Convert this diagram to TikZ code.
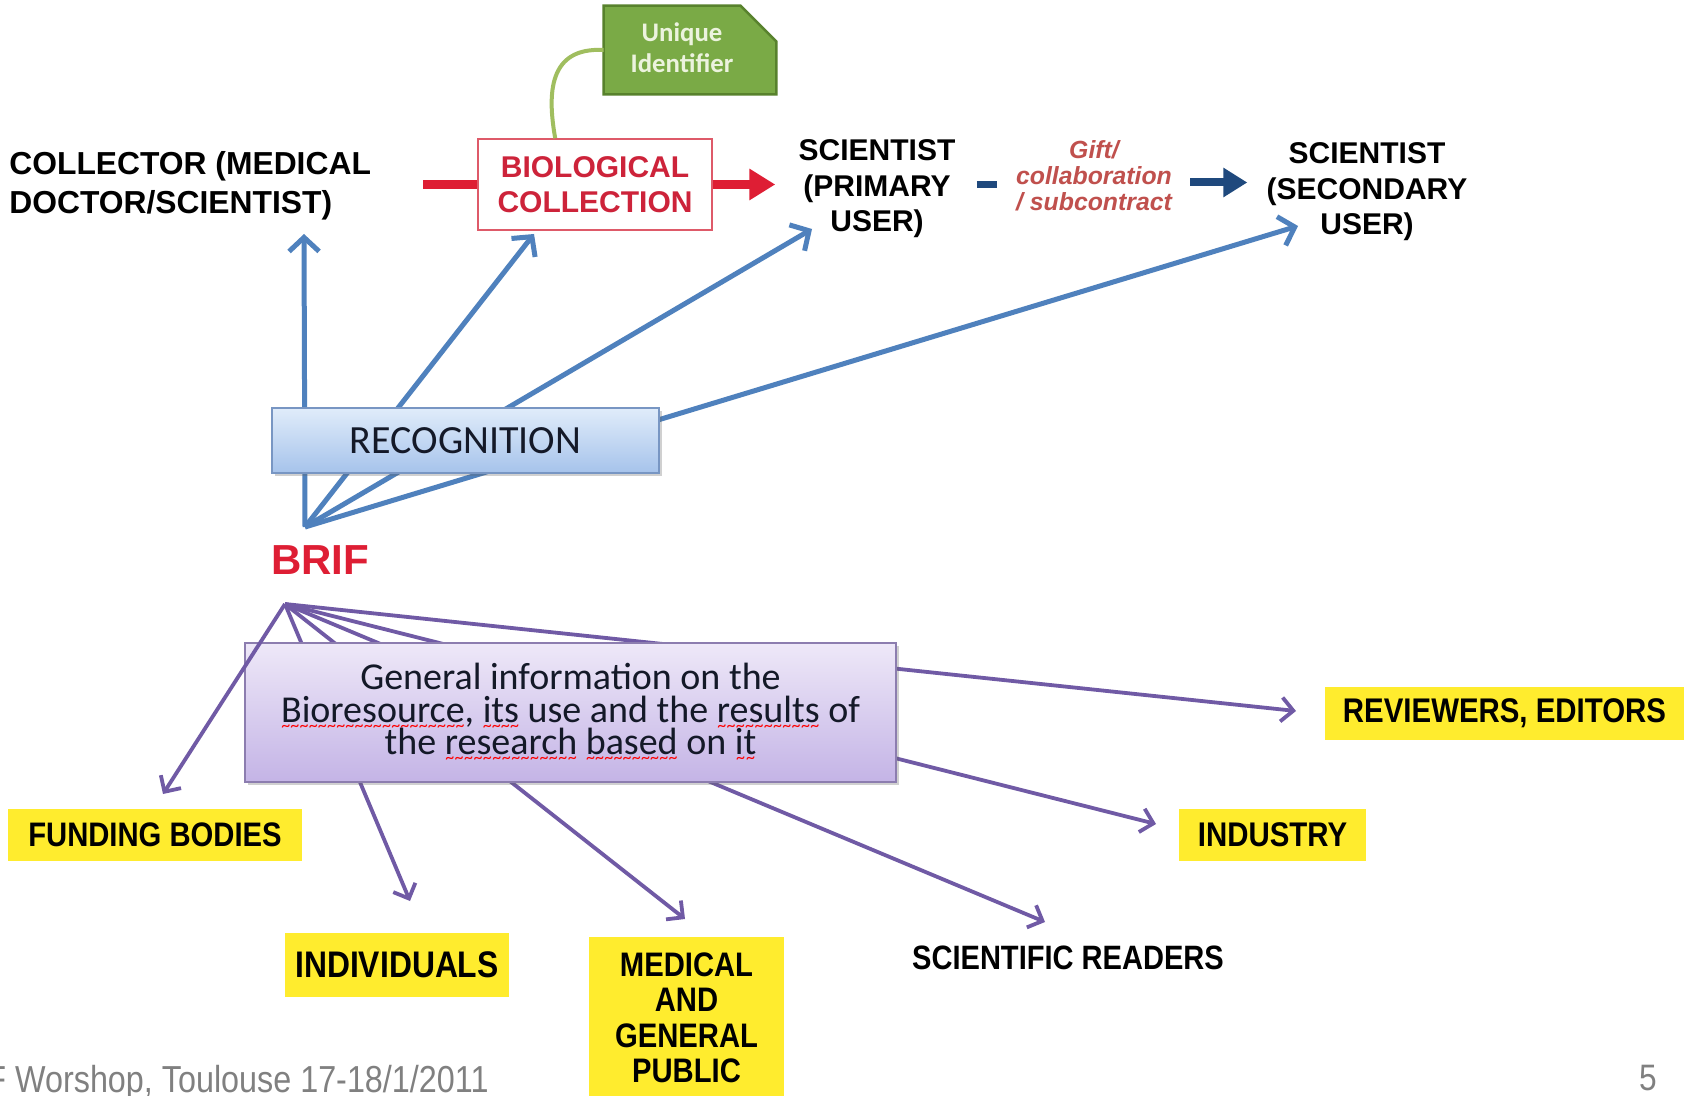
\documentclass[tikz,border=0pt]{standalone}
\usepackage{fontspec}
\setmainfont{Liberation Sans}
\newfontfamily\calfont{Carlito}
\newfontfamily\narfont[FakeStretch=0.86]{Liberation Sans}
\usetikzlibrary{arrows.meta,calc,shadows}
\definecolor{redc}{RGB}{222,30,52}
\definecolor{redtxt}{RGB}{205,35,58}
\definecolor{redbord}{RGB}{222,90,105}
\definecolor{giftred}{RGB}{192,80,77}
\definecolor{navyc}{RGB}{31,73,125}
\definecolor{bluel}{RGB}{79,129,189}
\definecolor{purl}{RGB}{112,90,165}
\definecolor{ylw}{RGB}{255,236,46}
\definecolor{uidgreen}{RGB}{122,170,70}
\definecolor{uiddark}{RGB}{88,130,45}
\definecolor{uidtext}{RGB}{236,243,222}
\definecolor{greenl}{RGB}{160,190,95}
\definecolor{rectop}{RGB}{224,236,250}
\definecolor{recbot}{RGB}{166,195,235}
\definecolor{recbord}{RGB}{120,150,195}
\definecolor{gentop}{RGB}{238,232,248}
\definecolor{genbot}{RGB}{196,180,230}
\definecolor{genbord}{RGB}{140,125,175}
\definecolor{footgray}{RGB}{128,128,128}
\definecolor{darktxt}{RGB}{20,25,40}
\newcommand\fsz[2]{\fontsize{#1}{#2}\selectfont}
\newsavebox\wavebox
\newcommand\spellwave[1]{\sbox\wavebox{#1}\leavevmode\rlap{\raisebox{-4.5pt}[0pt][0pt]{\color{red}\fsz{9}{9}\hbox to \wd\wavebox{\xleaders\hbox{\char126}\hfill}}}\usebox\wavebox}
\tikzset{
  plain/.style={inner sep=0pt, align=center},
  yellowbox/.style={fill=ylw, inner sep=0pt, align=center, text=black},
  bluearr/.style={draw=bluel, line width=2.5pt, -{Straight Barb[length=7pt,width=15pt]}},
  purparr/.style={draw=purl, line width=1.9pt, -{Straight Barb[length=6pt,width=12pt]}},
  redbar/.style={draw=redc, line width=4.5pt},
  redarrow/.style={draw=redc, line width=4.5pt, -{Triangle[length=13pt,width=15pt]}},
  navybar/.style={draw=navyc, line width=3.8pt},
  navyarrow/.style={draw=navyc, line width=4pt, -{Triangle[length=12pt,width=14pt]}},
  greencurve/.style={draw=greenl, line width=2pt},
  gentext/.style={inner sep=0pt, anchor=base, text=darktxt, font=\calfont\fsz{19}{19}},
  softshadow/.style={drop shadow={shadow xshift=1.5pt, shadow yshift=-1.5pt, opacity=0.3, fill=black!60}}
}
\begin{document}
\begin{tikzpicture}[x=0.5pt,y=-0.5pt]
\useasboundingbox (0,0) rectangle (1686,1096);
\fill[white] (0,0) rectangle (1686,1096);

% top row
\node[plain, align=left, anchor=west, font=\bfseries\fsz{15.9}{19.5}] (coll) at (9,186) {COLLECTOR (MEDICAL\\DOCTOR/SCIENTIST)};
\node[plain, draw=redbord, line width=0.8pt, fill=white, text=redtxt, font=\bfseries\fsz{15}{17.5},
      minimum width=117pt, minimum height=45.5pt] (bio) at (595,184.5) {BIOLOGICAL\\COLLECTION};
\node[plain, font=\bfseries\fsz{15}{17.75}] (prim) at (877,189) {SCIENTIST\\(PRIMARY\\USER)};
\node[plain, text=giftred, font=\bfseries\itshape\fsz{12.4}{13}] (gift) at (1094,176) {Gift/\\collaboration\\/ subcontract};
\node[plain, font=\bfseries\fsz{15}{17.75}] (sec) at (1367,192) {SCIENTIST\\(SECONDARY\\USER)};

% unique identifier
\node[inner sep=0pt, minimum width=86pt, minimum height=44pt] (uid) at (690,50) {};
\filldraw[fill=uidgreen, draw=uiddark, line width=1.2pt]
  (uid.north west) -- ($(uid.north east)+(-36,0)$) -- ($(uid.north east)+(0,36)$)
  -- (uid.south east) -- (uid.south west) -- cycle;
\node[plain, text=uidtext, font=\calfont\bfseries\fsz{13.4}{15.5}] (uidtxt) at ($(uid.center)+(-8,-2)$) {Unique\\Identifier};
\draw[greencurve] (uid.west) .. controls +(-55,-3) and +(-8,-45) .. ($(bio.north west)+(78,0)$);

% red and navy arrows
\draw[redbar, shorten <=26pt] (bio.west -| coll.east) -- (bio.west);
\draw[redarrow, shorten >=11.5pt] (bio.east) -- (bio.east -| prim.west);
\draw[navybar, shorten <=10.5pt, shorten >=9.5pt] (bio.east -| prim.east) -- (bio.east -| gift.west);
\draw[navyarrow, shorten <=9pt, shorten >=9.5pt] ([yshift=1pt]bio.east -| gift.east) -- ([yshift=1pt]bio.east -| sec.west);

% BRIF
\node[plain, text=redc, font=\bfseries\fsz{21}{21}] (brif) at (320,560) {BRIF};
\coordinate (bhub) at (305,527);
\coordinate (phub) at (285,604);

% audience labels
\node[yellowbox, minimum width=179.5pt, minimum height=26.5pt, font=\narfont\bfseries\fsz{17.1}{17}] (rev) at (1504.5,713) {REVIEWERS, EDITORS};
\node[yellowbox, minimum width=93.5pt, minimum height=26pt, font=\narfont\bfseries\fsz{17.1}{17}] (indu) at (1272.5,835) {INDUSTRY};
\node[yellowbox, minimum width=147pt, minimum height=26pt, font=\narfont\bfseries\fsz{17}{17}] (fund) at (155,835) {FUNDING BODIES};
\node[yellowbox, minimum width=112pt, minimum height=32pt, font=\narfont\bfseries\fsz{18.5}{18}] (indiv) at (397,965) {INDIVIDUALS};
\node[yellowbox, minimum width=97.5pt, minimum height=81pt, font=\narfont\bfseries\fsz{17}{17.75}] (med) at (686.5,1018) {MEDICAL\\AND\\GENERAL\\PUBLIC};
\node[plain, font=\narfont\bfseries\fsz{16.9}{17}] (read) at (1068,958) {SCIENTIFIC READERS};

% tips
\coordinate (tcoll) at (304,234);
\coordinate (tbio) at (534,234);
\coordinate (tprim) at (812,229);
\coordinate (tsec) at (1298,226);
\coordinate (tfund) at (163,794);
\coordinate (tind) at (410,901);
\coordinate (tmed) at (685,919);
\coordinate (tread) at (1045,922);
\coordinate (tindu) at (1156,824);
\coordinate (trev) at (1296,711);

% blue fan
\draw[bluearr] (bhub) -- (tcoll);
\draw[bluearr] (bhub) -- (tbio);
\draw[bluearr] (bhub) -- (tprim);
\draw[bluearr] (bhub) -- (tsec);
\node[plain, draw=recbord, line width=0.8pt, top color=rectop, bottom color=recbot, softshadow,
      minimum width=193.5pt, minimum height=32.5pt, text=darktxt,
      font=\calfont\fsz{20}{20}] (recog) at (465.5,440.5) {RECOGNITION};

% purple fan
\draw[purparr] (phub) -- (tind);
\draw[purparr] (phub) -- (tmed);
\draw[purparr] (phub) -- (tread);
\draw[purparr] (phub) -- (tindu);
\draw[purparr] (phub) -- (trev);
\node[plain, draw=genbord, line width=0.8pt, top color=gentop, bottom color=genbot, softshadow,
      minimum width=325.5pt, minimum height=69.5pt] (gen) at (570.5,712.5) {};
\node[gentext] (gen1) at (570.5,689) {General information on the};
\node[gentext] (gen2) at (570.5,722) {\spellwave{Bioresource}, \spellwave{its} use and the \spellwave{results} of};
\node[gentext] (gen3) at (570.5,754) {the \spellwave{research} \spellwave{based} on \spellwave{it}};
\draw[purparr] (phub) -- (tfund);

% footer
\node[inner sep=0pt, anchor=base west, text=footgray, font=\narfont\fsz{18.8}{18}] (foot) at (-14,1092) {F Worshop, Toulouse 17-18/1/2011};
\node[inner sep=0pt, anchor=base, text=footgray, font=\narfont\fsz{18.4}{18}] (pnum) at (1648,1090) {5};
\end{tikzpicture}
\end{document}
